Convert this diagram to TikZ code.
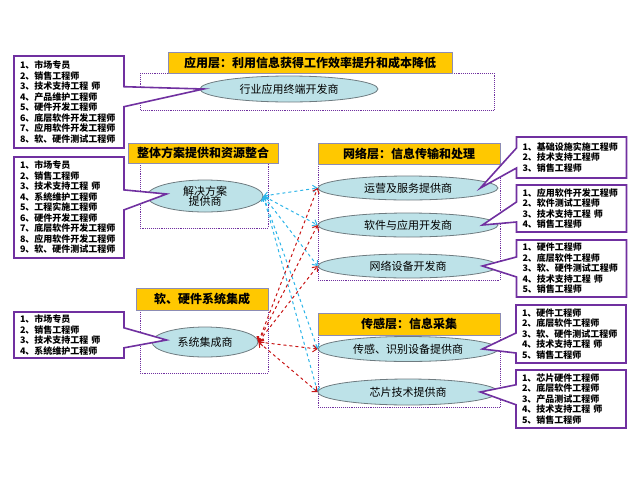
\documentclass[tikz,border=0pt]{standalone}
\usepackage{fontspec}
\setmainfont{Noto Sans CJK SC}
\usetikzlibrary{calc}
\usetikzlibrary{arrows.meta}
\usetikzlibrary{shapes.geometric}
\usetikzlibrary{shapes.callouts}
\definecolor{layerpurple}{HTML}{7030A0}
\definecolor{titlegold}{HTML}{FFC800}
\definecolor{titleborder}{HTML}{8C8CB4}
\definecolor{ellfill}{HTML}{BDE2E8}
\definecolor{ellborder}{HTML}{6E7B80}
\definecolor{arrowblue}{HTML}{2DB4E8}
\definecolor{arrowred}{HTML}{C81414}

\begin{document}
\begin{tikzpicture}[x=1pt, y=-1pt, >={Straight Barb[length=4pt, width=7pt]}]
            \tikzstyle{layertitle} = [draw=titleborder, fill=titlegold, line width=0.8pt, inner sep=0pt, font=\fontsize{12}{14}\selectfont\bfseries]
            \tikzstyle{layerbox} = [draw=layerpurple, densely dotted, line width=0.9pt]
            \tikzstyle{actor} = [ellipse, draw=ellborder, fill=ellfill, line width=0.8pt, inner sep=0pt, align=center, font=\fontsize{11}{12}\selectfont]
            \tikzstyle{jobs} = [rectangle callout, draw=layerpurple, fill=white, line width=1.6pt, callout pointer width=20pt, text width=98pt, align=left, inner xsep=6pt, inner ysep=0pt, font=\fontsize{9}{10.5}\selectfont\bfseries]
            \tikzstyle{soldash} = [draw=arrowblue, dashed, line width=1pt, <->]
            \tikzstyle{sysdash} = [draw=arrowred, dashed, line width=1pt, <->]
            \useasboundingbox (0, 0) rectangle (640, 480);
            \draw[layerbox] (140, 73) rectangle (494, 110);
            \draw[layerbox] (140, 163) rectangle (268, 228);
            \draw[layerbox] (140, 310) rectangle (268, 373);
            \draw[layerbox] (318, 164) rectangle (500, 280);
            \draw[layerbox] (318, 335) rectangle (500, 407);
            \node[layertitle, minimum width=284pt, minimum height=21pt] (apptitle) at (310, 62.5) {应用层：利用信息获得工作效率提升和成本降低};
            \node[layertitle, minimum width=150pt, minimum height=20pt] (soltitle) at (203, 153) {整体方案提供和资源整合};
            \node[layertitle, minimum width=182pt, minimum height=21pt] (nettitle) at (409, 153.5) {网络层：信息传输和处理};
            \node[layertitle, minimum width=132pt, minimum height=22pt] (systitle) at (202, 299) {软、硬件系统集成};
            \node[layertitle, minimum width=182pt, minimum height=22pt] (sensetitle) at (409, 324) {传感层：信息采集};
            \node[actor, minimum width=178pt, minimum height=26pt] (app) at (289, 89) {行业应用终端开发商};
            \node[actor, minimum width=116pt, minimum height=32pt] (sol) at (205, 196) {解决方案\\[-2pt]提供商};
            \node[actor, minimum width=106pt, minimum height=30pt] (sys) at (205, 342) {系统集成商};
            \node[actor, minimum width=180pt, minimum height=24pt] (ops) at (408, 188) {运营及服务提供商};
            \node[actor, minimum width=180pt, minimum height=24pt] (soft) at (408, 225) {软件与应用开发商};
            \node[actor, minimum width=180pt, minimum height=24pt] (netdev) at (408, 266) {网络设备开发商};
            \node[actor, minimum width=180pt, minimum height=25pt] (sense) at (408, 349) {传感、识别设备提供商};
            \node[actor, minimum width=180pt, minimum height=26pt] (chip) at (408, 392) {芯片技术提供商};
            \draw[soldash] (sol.east) -- (ops.west);
            \draw[soldash] (sol.east) -- (soft.west);
            \draw[soldash] (sol.east) -- (netdev.west);
            \draw[soldash] (sol.east) -- (sense.west);
            \draw[soldash] (sol.east) -- (chip.west);
            \draw[sysdash] (sys.east) -- (ops.west);
            \draw[sysdash] (sys.east) -- (soft.west);
            \draw[sysdash] (sys.east) -- (netdev.west);
            \draw[sysdash] (sys.east) -- (sense.west);
            \draw[sysdash] (sys.east) -- (chip.west);
            \node[jobs, minimum height=92pt, callout absolute pointer={($(app.west) + (4, 0)$)}] (appjobs) at (69, 102) {1、市场专员\\2、销售工程师\\3、技术支持工程 师\\4、产品维护工程师\\5、硬件开发工程师\\6、底层软件开发工程师\\7、应用软件开发工程师\\8、软、硬件测试工程师};
            \node[jobs, minimum height=101pt, callout absolute pointer={($(sol.west) + (20, -2)$)}] (soljobs) at (69, 207.5) {1、市场专员\\2、销售工程师\\3、技术支持工程 师\\4、系统维护工程师\\5、工程实施工程师\\6、硬件开发工程师\\7、底层软件开发工程师\\8、应用软件开发工程师\\9、软、硬件测试工程师};
            \node[jobs, minimum height=46pt, callout absolute pointer={($(sys.west) + (15, -2)$)}] (sysjobs) at (69, 335) {1、市场专员\\2、销售工程师\\3、技术支持工程 师\\4、系统维护工程师};
            \node[jobs, minimum height=41pt, callout absolute pointer={($(ops.east) + (-18, 0)$)}] (opsjobs) at (571.5, 157.5) {1、基础设施实施工程师\\2、技术支持工程师\\3、销售工程师};
            \node[jobs, minimum height=47pt, callout absolute pointer={($(soft.east) + (-16, 0)$)}] (softjobs) at (571.5, 208.5) {1、应用软件开发工程师\\2、软件测试工程师\\3、技术支持工程 师\\4、销售工程师};
            \node[jobs, minimum height=57pt, callout absolute pointer={($(netdev.east) + (-16, 0)$)}] (netdevjobs) at (571.5, 268.5) {1、硬件工程师\\2、底层软件工程师\\3、软、硬件测试工程师\\4、技术支持工程 师\\5、销售工程师};
            \node[jobs, minimum height=58pt, callout absolute pointer={($(sense.east) + (-16, 0)$)}] (sensejobs) at (571, 334) {1、硬件工程师\\2、底层软件工程师\\3、软、硬件测试工程师\\4、技术支持工程 师\\5、销售工程师};
            \node[jobs, minimum height=58pt, callout absolute pointer={($(chip.east) + (-18, 0)$)}] (chipjobs) at (571, 399) {1、芯片硬件工程师\\2、底层软件工程师\\3、产品测试工程师\\4、技术支持工程 师\\5、销售工程师};
        \end{tikzpicture}
\end{document}
